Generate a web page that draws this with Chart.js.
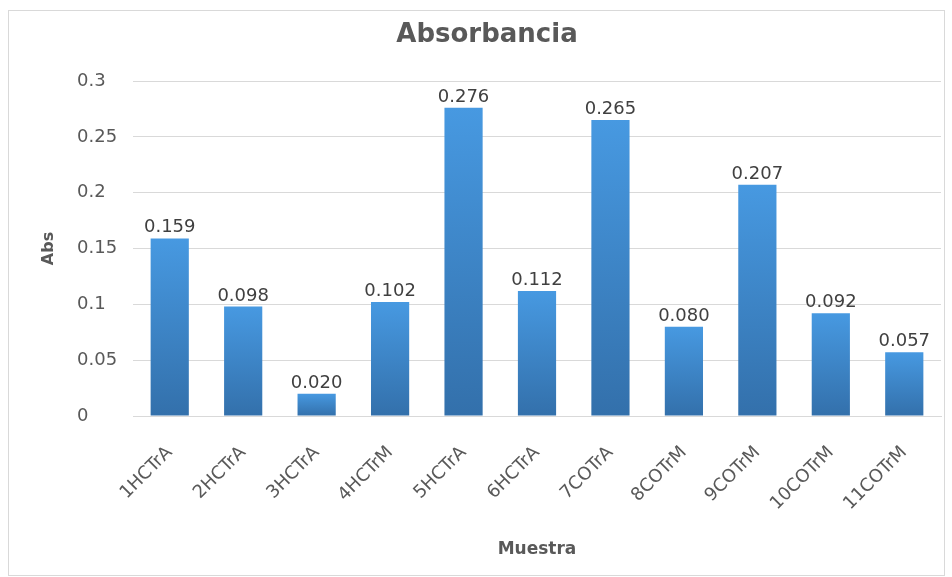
<!DOCTYPE html>
<html>
<head>
<meta charset="utf-8">
<script src="https://cdn.jsdelivr.net/npm/chart.js@4"></script>
<style>
  html, body { margin: 0; padding: 0; background: #fff; }
  #box {
    position: absolute; left: 8px; top: 10px; width: 937px; height: 566px;
    border: 1px solid #d9d9d9; box-sizing: border-box;
  }
  #wrap { position: absolute; left: 0; top: 0; width: 952px; height: 577px; }
</style>
</head>
<body>
<div id="box"></div>
<div id="wrap"><canvas id="chart-canvas"></canvas></div>
<script>
const muestras = ['1HCTrA', '2HCTrA', '3HCTrA', '4HCTrM', '5HCTrA', '6HCTrA', '7COTrA', '8COTrM', '9COTrM', '10COTrM', '11COTrM'];
const absorbancia = [0.159, 0.098, 0.020, 0.102, 0.276, 0.112, 0.265, 0.080, 0.207, 0.092, 0.057];
const yTicks = [0, 0.05, 0.1, 0.15, 0.2, 0.25, 0.3];

const FONT = '"DejaVu Sans", sans-serif';
const GRAY = '#595959';

// each bar gets its own gradient, light on top, darker at the base
function barGradient(context) {
    const chart = context.chart;
    if (!chart.chartArea) return '#3d85c6';
    const y = chart.scales.y;
    const top = y.getPixelForValue(context.raw);
    const bottom = y.getPixelForValue(0);
    const g = chart.ctx.createLinearGradient(0, top, 0, bottom);
    g.addColorStop(0, '#4799e1');
    g.addColorStop(1, '#3370ab');
    return g;
}

// value labels above the bars, plus chart title and the vertical "Abs" label
const extraText = {
    id: 'extraText',
    afterDatasetsDraw(chart) {
        const ctx = chart.ctx;
        const area = chart.chartArea;
        const meta = chart.getDatasetMeta(0);
        ctx.save();
        ctx.font = '18px ' + FONT;
        ctx.fillStyle = '#404040';
        ctx.textAlign = 'center';
        ctx.textBaseline = 'alphabetic';
        meta.data.forEach((bar, i) => {
            ctx.fillText(absorbancia[i].toFixed(3), bar.x, bar.y - 6);
        });

        ctx.fillStyle = GRAY;
        ctx.font = 'bold 26px ' + FONT;
        ctx.textBaseline = 'middle';
        ctx.fillText('Absorbancia', 487, 35);

        ctx.font = 'bold 16px ' + FONT;
        ctx.translate(49, (area.top + area.bottom) / 2);
        ctx.rotate(-Math.PI / 2);
        ctx.fillText('Abs', 0, 0);
        ctx.restore();
    }
};

const ctx = document.getElementById('chart-canvas').getContext('2d');
new Chart(ctx, {
    type: 'bar',
    data: {
        labels: muestras,
        datasets: [{
            label: 'Abs',
            data: absorbancia,
            backgroundColor: barGradient,
            barPercentage: 0.52,
            categoryPercentage: 1
        }]
    },
    options: {
        responsive: true,
        maintainAspectRatio: false,
        animation: false,
        layout: { padding: { left: 77, right: 11, top: 81, bottom: 17 } },
        plugins: {
            legend: { display: false },
            tooltip: { enabled: false },
            title: { display: false }
        },
        scales: {
            y: {
                min: 0,
                max: 0.3,
                afterBuildTicks(axis) {
                    axis.ticks = yTicks.map(v => ({ value: v }));
                },
                afterFit(axis) {
                    axis.width = 56;
                },
                ticks: {
                    color: GRAY,
                    font: { family: FONT, size: 18 },
                    crossAlign: 'far',
                    padding: 14,
                    callback: v => String(v)
                },
                grid: { color: '#d9d9d9', drawTicks: false },
                border: { display: false }
            },
            x: {
                // rotated labels may hang under the y axis, no extra room needed
                afterFit(axis) {
                    axis.paddingLeft = 0;
                    axis.paddingRight = 0;
                    axis.height = 144;
                },
                ticks: {
                    color: GRAY,
                    font: { family: FONT, size: 18 },
                    minRotation: 45,
                    maxRotation: 45,
                    padding: 26
                },
                grid: { display: false, drawTicks: false },
                border: { color: '#d9d9d9' },
                title: {
                    display: true,
                    text: 'Muestra',
                    color: GRAY,
                    font: { family: FONT, size: 17, weight: 'bold' },
                    padding: { top: 10, bottom: 0 }
                }
            }
        }
    },
    plugins: [extraText]
});
</script>
</body>
</html>
